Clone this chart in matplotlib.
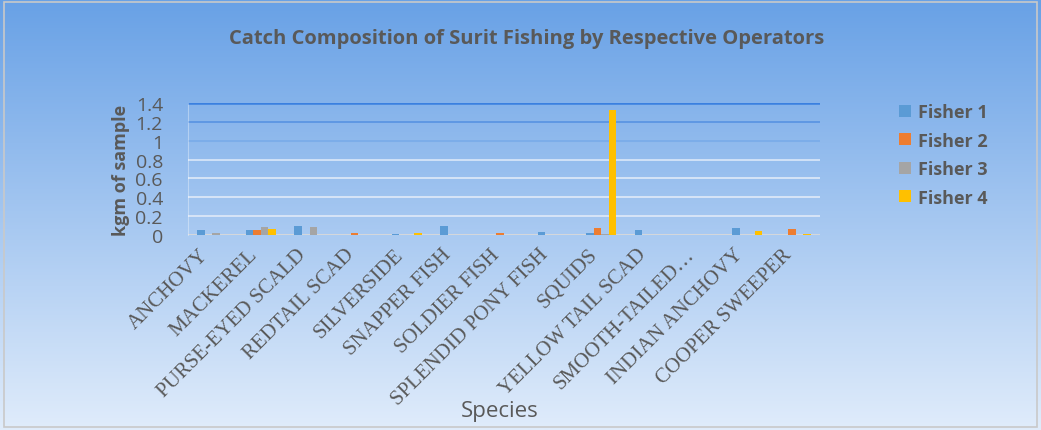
import matplotlib.pyplot as plt
import numpy as np
from matplotlib.patches import Rectangle

species = ["ANCHOVY", "MACKEREL", "PURSE-EYED SCALD", "REDTAIL SCAD", "SILVERSIDE",
           "SNAPPER FISH", "SOLDIER FISH", "SPLENDID PONY FISH", "SQUIDS",
           "YELLOW TAIL SCAD", "SMOOTH-TAILED\u2026", "INDIAN ANCHOVY", "COOPER SWEEPER"]
fisher1 = [0.055, 0.05, 0.095, 0.0, 0.01, 0.095, 0.0, 0.035, 0.02, 0.05, 0.0, 0.07, 0.0]
fisher2 = [0.005, 0.05, 0.0, 0.025, 0.0, 0.0, 0.02, 0.0, 0.07, 0.0, 0.0, 0.0, 0.06]
fisher3 = [0.02, 0.08, 0.085, 0.0, 0.0, 0.0, 0.0, 0.0, 0.01, 0.0, 0.005, 0.0, 0.0]
fisher4 = [0.0, 0.065, 0.0, 0.0, 0.02, 0.0, 0.0, 0.0, 1.33, 0.0, 0.0, 0.04, 0.015]
series = {"Fisher 1": fisher1, "Fisher 2": fisher2, "Fisher 3": fisher3, "Fisher 4": fisher4}
colors = ["#5b9bd5", "#ed7d31", "#a5a5a5", "#ffc000"]
yticks = [0, 0.2, 0.4, 0.6, 0.8, 1, 1.2, 1.4]

TXT = "#595959"
SANS = ["Open Sans", "DejaVu Sans"]

fig = plt.figure(figsize=(10.41, 4.31), dpi=100)

# gradient background
bg = fig.add_axes([0, 0, 1, 1], zorder=-10)
top = np.array([104, 161, 230]) / 255
bot = np.array([224, 236, 251]) / 255
t = np.linspace(0, 1, 256)[:, None]
grad = top * (1 - t) + bot * t
bg.imshow(grad[:, None, :], aspect="auto", extent=[0, 1, 0, 1])
bg.add_patch(Rectangle((0.004, 0.008), 0.992, 0.984, fill=False, edgecolor="#c9c9c9", lw=1.2,
                       transform=bg.transAxes))
bg.set_axis_off()

ax = fig.add_axes([188 / 1041, 1 - 236 / 431, (820 - 188) / 1041, (236 - 104) / 431])
ax.set_facecolor("none")

x = np.arange(len(species))
w = 0.155
for i, (name, vals) in enumerate(series.items()):
    ax.bar(x + (i - 1.5) * w, vals, w, color=colors[i], label=name, zorder=3)

grid_colors = ["#d9d9d9", "#dbe7f7", "#dbe7f7", "#dbe7f7", "#d6e4f7", "#7aace9", "#5b95e3", "#3a80e0"]
for yv, gc in zip(yticks, grid_colors):
    ax.axhline(yv, color=gc, lw=1.8 if yv > 1.3 else 1.3, zorder=1)

ax.set_xlim(-0.5, len(species) - 0.5)
ax.set_ylim(0, 1.4)
ax.set_yticks(yticks)
ax.set_yticklabels([f"{v:g}" for v in yticks], fontsize=14, color=TXT, family=SANS)
ax.set_xticks(x)
ax.set_xticklabels(species, rotation=45, ha="right", va="top", fontsize=15, color=TXT,
                   family=["Liberation Serif", "DejaVu Serif"])
ax.tick_params(axis="x", length=0, pad=7)
ax.tick_params(axis="y", length=0, pad=18)
for s in ["top", "right", "bottom"]:
    ax.spines[s].set_visible(False)
ax.spines["left"].set_color((1, 1, 1, 0.35))

ax.set_ylabel("kgm of sample", fontsize=13, fontweight="bold", color=TXT, family=SANS, labelpad=4)
fig.text(500 / 1041, 1 - 412 / 431, "Species", ha="center", va="center", fontsize=16, color=TXT,
         family=SANS)
fig.text(527 / 1041, 1 - 39 / 431, "Catch Composition of Surit Fishing by Respective Operators",
         ha="center", va="center", fontsize=14.5, fontweight="bold", color=TXT, family=SANS)

leg = ax.legend(loc="upper left", bbox_to_anchor=(883 / 1041, 1 - 88 / 431),
                bbox_transform=fig.transFigure, frameon=False, handlelength=0.65, handleheight=0.65,
                handletextpad=0.4, labelspacing=0.58, prop={"family": SANS, "size": 13, "weight": "bold"})
for txt in leg.get_texts():
    txt.set_color(TXT)

fig.savefig("out.png", dpi=100)
